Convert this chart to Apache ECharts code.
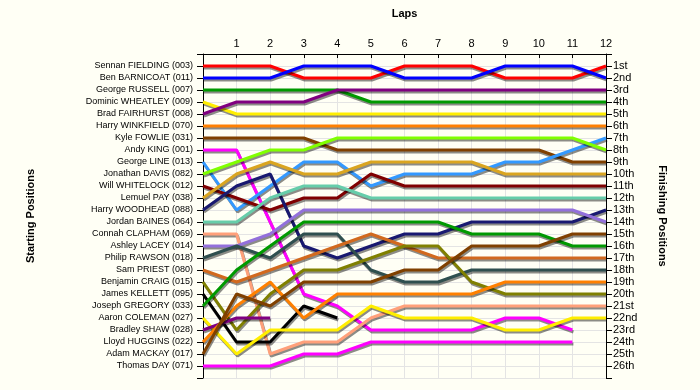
<!DOCTYPE html>
<html><head><meta charset="utf-8">
<script src="https://cdn.jsdelivr.net/npm/echarts@6/dist/echarts.min.js"></script>
<style>html,body{margin:0;padding:0;background:#fffff5;}#c{width:700px;height:390px;}</style>
</head><body><div id="c"></div>
<script>
// Lap tick labels
const lapLabels = ['1','2','3','4','5','6','7','8','9','10','11','12'];
// Starting grid (left axis, top to bottom)
const startNames = [
  'Sennan FIELDING (003)','Ben BARNICOAT (011)','George RUSSELL (007)','Dominic WHEATLEY (009)',
  'Brad FAIRHURST (008)','Harry WINKFIELD (070)','Kyle FOWLIE (031)','Andy KING (001)',
  'George LINE (013)','Jonathan DAVIS (082)','Will WHITELOCK (012)','Lemuel PAY (038)',
  'Harry WOODHEAD (088)','Jordan BAINES (064)','Connah CLAPHAM (069)','Ashley LACEY (014)',
  'Philip RAWSON (018)','Sam PRIEST (080)','Benjamin CRAIG (015)','James KELLETT (095)',
  'Joseph GREGORY (033)','Aaron COLEMAN (027)','Bradley SHAW (028)','Lloyd HUGGINS (022)',
  'Adam MACKAY (017)','Thomas DAY (071)'
];
// Finishing position labels (right axis)
const finishLabels = ['1st','2nd','3rd','4th','5th','6th','7th','8th','9th','10th','11th','12th','13th',
  '14th','15th','16th','17th','18th','19th','20th','21st','22nd','23rd','24th','25th','26th'];
// Line colours, in starting order
const driverColors = ['#ff0000','#0000ff','#009900','#ffee00','#800080','#ff8000','#804000','#ff00ff',
  '#3399ff','#80ff00','#800000','#daa520','#191970','#66cdaa','#ffa07a','#9370db',
  '#2f4f4f','#d2691e','#808000','#000000','#009900','#ffee00','#800080','#ff8000','#804000','#ff00ff'];

// Position at each lap (index 0 = start)
const posFIELDING  = [1,1,1,2,2,2,1,1,1,2,2,2,1];
const posBARNICOAT = [2,2,2,1,1,1,2,2,2,1,1,1,2];
const posRUSSELL   = [3,3,3,3,3,4,4,4,4,4,4,4,4];
const posWHEATLEY  = [4,5,5,5,5,5,5,5,5,5,5,5,5];
const posFAIRHURST = [5,4,4,4,3,3,3,3,3,3,3,3,3];
const posWINKFIELD = [6,6,6,6,6,6,6,6,6,6,6,6,6];
const posFOWLIE    = [7,7,7,7,8,8,8,8,8,8,8,9,9];
const posKING      = [8,8,14,20,21,23,23,23,23,22,22,23];
const posLINE      = [9,13,11,9,9,11,10,10,10,9,9,8,7];
const posDAVIS     = [10,9,8,8,7,7,7,7,7,7,7,7,8];
const posWHITELOCK = [11,12,13,12,12,10,11,11,11,11,11,11,11];
const posPAY       = [12,10,9,10,10,9,9,9,9,10,10,10,10];
const posWOODHEAD  = [13,11,10,16,17,16,15,15,14,14,14,14,13];
const posBAINES    = [14,14,12,11,11,12,12,12,12,12,12,12,12];
const posCLAPHAM   = [15,15,25,24,24,22,21,21,21,21,21,21,21];
const posLACEY     = [16,16,15,13,13,13,13,13,13,13,13,13,14];
const posRAWSON    = [17,16,17,15,15,18,19,19,18,18,18,18,18];
const posPRIEST    = [18,19,18,17,16,15,16,17,17,17,17,17,17];
const posCRAIG     = [19,23,20,18,18,17,16,16,19,20,20,20,20];
const posKELLETT   = [20,24,24,21,22];
const posGREGORY   = [21,18,16,14,14,14,14,14,15,15,15,16,16];
const posCOLEMAN   = [22,25,23,23,23,21,22,22,22,23,23,22,22];
const posSHAW      = [23,22,22];
const posHUGGINS   = [24,21,19,22,20,20,20,20,20,19,19,19,19];
const posMACKAY    = [25,20,21,19,19,19,18,18,16,16,16,15,15];
const posDAY       = [26,26,26,25,25,24,24,24,24,24,24,24];

const allPositions = [posFIELDING,posBARNICOAT,posRUSSELL,posWHEATLEY,posFAIRHURST,posWINKFIELD,
  posFOWLIE,posKING,posLINE,posDAVIS,posWHITELOCK,posPAY,posWOODHEAD,posBAINES,posCLAPHAM,posLACEY,
  posRAWSON,posPRIEST,posCRAIG,posKELLETT,posGREGORY,posCOLEMAN,posSHAW,posHUGGINS,posMACKAY,posDAY];

const FONT = "'Liberation Sans', Arial, sans-serif";
const gridColor = '#e4e4e4';

const series = allPositions.map((arr, i) => ({
  name: startNames[i],
  type: 'line',
  data: arr.map((p, lap) => [lap, p]),
  showSymbol: false,
  symbol: 'none',
  silent: true,
  lineStyle: {
    color: driverColors[i], width: 3,
    shadowColor: 'rgba(0,0,0,0.45)', shadowOffsetY: 2, shadowOffsetX: 1, shadowBlur: 0
  },
  z: 3
}));

const chart = echarts.init(document.getElementById('c'), null, {renderer: 'canvas'});
chart.setOption({
  backgroundColor: '#fffff5',
  animation: false,
  textStyle: {fontFamily: FONT},
  grid: {left: 203, right: 94, top: 54, height: 324, containLabel: false},
  xAxis: {
    type: 'value', position: 'top', min: 0, max: 12, interval: 1,
    name: 'Laps', nameLocation: 'middle', nameGap: 35,
    nameTextStyle: {fontFamily: FONT, fontWeight: 'bold', fontSize: 11, color: '#000'},
    axisLine: {onZero: false, lineStyle: {color: '#000', width: 1}},
    axisTick: {show: true, inside: true, length: 4, lineStyle: {color: '#000'}},
    axisLabel: {margin: 5, fontFamily: FONT, fontSize: 11, color: '#000',
      formatter: v => (v >= 1 && v <= 12) ? lapLabels[v - 1] : ''},
    splitLine: {show: true, lineStyle: {color: gridColor, width: 1}}
  },
  yAxis: [{
    type: 'value', inverse: true, min: 0, max: 27, interval: 1, position: 'left',
    name: 'Starting Positions', nameLocation: 'middle', nameGap: 167,
    nameTextStyle: {fontFamily: FONT, fontWeight: 'bold', fontSize: 11, color: '#000'},
    axisLine: {onZero: false, lineStyle: {color: '#000', width: 1}},
    axisTick: {show: true, length: 6, lineStyle: {color: '#000'}},
    axisLabel: {margin: 10, fontFamily: FONT, fontSize: 9, color: '#000',
      formatter: v => (v >= 1 && v <= 26) ? startNames[v - 1] : ''},
    splitLine: {show: true, lineStyle: {color: gridColor, width: 1}}
  }, {
    type: 'value', inverse: true, min: 0, max: 27, interval: 1, position: 'right',
    name: 'Finishing Positions', nameLocation: 'middle', nameGap: 51, nameRotate: -90,
    nameTextStyle: {fontFamily: FONT, fontWeight: 'bold', fontSize: 11, color: '#000'},
    axisLine: {show: true, onZero: false, lineStyle: {color: '#000', width: 1}},
    axisTick: {show: true, length: 6, lineStyle: {color: '#000'}},
    axisLabel: {margin: 7, fontFamily: FONT, fontSize: 11, color: '#000',
      formatter: v => (v >= 1 && v <= 26) ? finishLabels[v - 1] : ''},
    splitLine: {show: false}
  }],
  series: series
});
</script>
</body></html>
